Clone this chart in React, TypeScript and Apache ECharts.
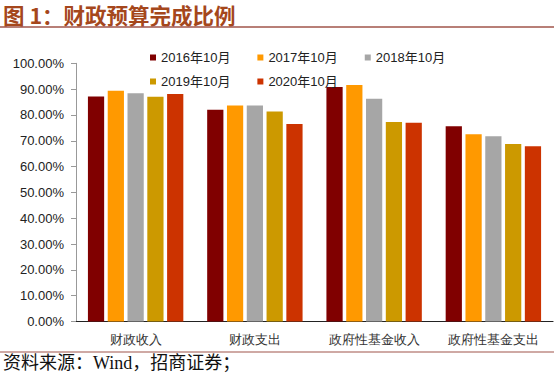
import React, { useEffect, useRef } from "react";
import * as echarts from "echarts";

const categories = ["财政收入", "财政支出", "政府性基金收入", "政府性基金支出"];
const seriesNames = ["2016年10月", "2017年10月", "2018年10月", "2019年10月", "2020年10月"];
const s2016 = [87.1, 82.0, 90.8, 75.6];
const s2017 = [89.4, 83.7, 91.6, 72.5];
const s2018 = [88.4, 83.7, 86.3, 71.7];
const s2019 = [87.0, 81.3, 77.3, 68.7];
const s2020 = [88.1, 76.5, 77.0, 67.9];
const seriesValues = [s2016, s2017, s2018, s2019, s2020];
const colors = ["#800000", "#FF9900", "#A6A6A6", "#CC9900", "#CC3300"];
const yTickMax = 100;
const yTickStep = 10;

export default function App() {
  const ref = useRef<HTMLDivElement>(null);
  useEffect(() => {
    if (!ref.current) return;
    const chart = echarts.init(ref.current, undefined, { renderer: "svg" });
    const legendText = {
      fontFamily: "Liberation Sans, Arial, Noto Sans CJK SC, sans-serif",
      fontSize: 13,
      color: "#222",
    };
    chart.setOption({
      animation: false,
      backgroundColor: "#fff",
      color: colors,
      grid: { left: 76, right: 1, top: 63.3, bottom: 55.5, containLabel: false },
      legend: [
        {
          data: seriesNames.slice(0, 3),
          left: 145,
          top: 46,
          orient: "horizontal",
          icon: "rect",
          itemWidth: 6,
          itemHeight: 6,
          itemGap: 27,
          textStyle: legendText,
        },
        {
          data: seriesNames.slice(3),
          left: 145,
          top: 70,
          orient: "horizontal",
          icon: "rect",
          itemWidth: 6,
          itemHeight: 6,
          itemGap: 27,
          textStyle: legendText,
        },
      ],
      xAxis: {
        type: "category",
        data: categories,
        axisLine: { lineStyle: { color: "#222", width: 1.2 } },
        axisTick: { show: false },
        axisLabel: {
          margin: 11,
          fontFamily: "serif",
          fontSize: 13,
          color: "#333",
        },
      },
      yAxis: {
        type: "value",
        min: 0,
        max: yTickMax,
        interval: yTickStep,
        axisLine: { show: true, lineStyle: { color: "#999" } },
        axisTick: { show: true, length: 5, lineStyle: { color: "#999" } },
        splitLine: { show: false },
        axisLabel: {
          margin: 12,
          fontFamily: "Liberation Sans, Arial, sans-serif",
          fontSize: 13,
          color: "#222",
          formatter: (v: number) => v.toFixed(2) + "%",
        },
      },
      series: seriesNames.map((name, i) => ({
        name,
        type: "bar",
        data: seriesValues[i],
        barGap: "22%",
        barCategoryGap: "20%",
        itemStyle: { color: colors[i] },
      })),
      graphic: [
        {
          type: "text",
          left: 3,
          top: 4,
          style: {
            text: "图 1：财政预算完成比例",
            fontSize: 21.5,
            fontWeight: "bold",
            fontFamily: "Noto Sans CJK SC, serif",
            fill: "#A5471C",
          },
        },
        {
          type: "line",
          shape: { x1: 0, y1: 27, x2: 554, y2: 27 },
          style: { stroke: "#A0554A", lineWidth: 1.5 },
        },
        {
          type: "line",
          shape: { x1: 0, y1: 352, x2: 554, y2: 352 },
          style: { stroke: "#A0554A", lineWidth: 1.2 },
        },
        {
          type: "text",
          left: 3,
          top: 354,
          style: {
            text: "资料来源：Wind，招商证券；",
            fontSize: 18,
            fontFamily: "Liberation Serif, Noto Sans CJK SC, serif",
            fill: "#111",
          },
        },
      ],
    });
    return () => chart.dispose();
  }, []);
  return (
    <div
      ref={ref}
      style={{ width: 554, height: 377, position: "absolute", left: 0, top: 0 }}
    />
  );
}
